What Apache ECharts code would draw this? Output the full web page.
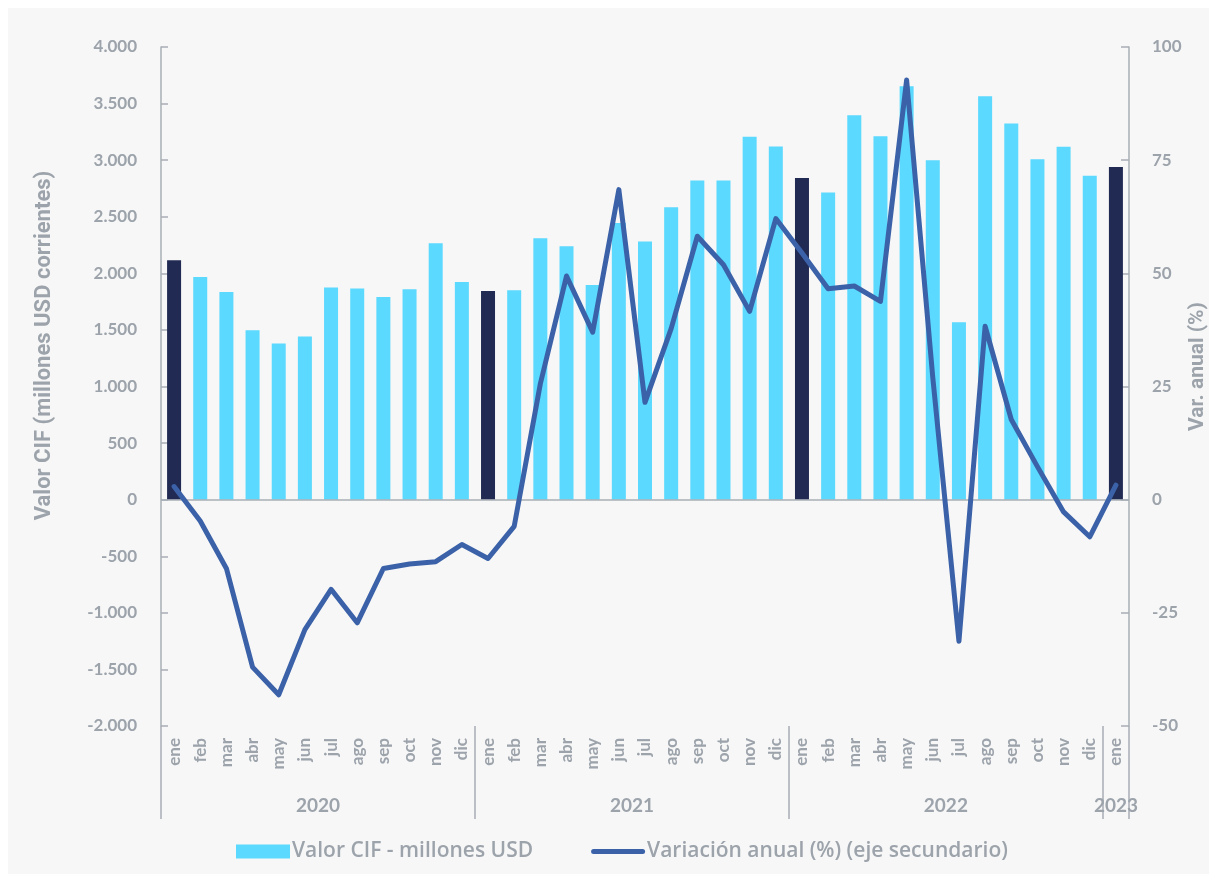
<!DOCTYPE html>
<html>
<head>
<meta charset="utf-8">
<script src="https://cdn.jsdelivr.net/npm/echarts@6/dist/echarts.min.js"></script>
<style>
  html, body { margin: 0; padding: 0; background: #ffffff; }
  #chart { position: absolute; left: 8px; top: 8px; width: 1201px; height: 866px; }
</style>
</head>
<body>
<div id="chart"></div>
<script>
// meses por año (ene 2020 - ene 2023)
const months = ['ene', 'feb', 'mar', 'abr', 'may', 'jun', 'jul', 'ago', 'sep', 'oct', 'nov', 'dic'];
const years = ['2020', '2021', '2022', '2023'];
const monthsPerYear = [12, 12, 12, 1];
const categories = [].concat(months, months, months, ['ene']);

// Valor CIF - millones USD
const valorCif = [
    2115, 1968, 1835, 1498, 1380, 1441, 1875, 1867, 1790, 1859, 2265, 1924,
    1843, 1851, 2310, 2240, 1896, 2444, 2281, 2585, 2821, 2821, 3207, 3121,
    2842, 2715, 3398, 3211, 3653, 3000, 1567, 3564, 3325, 3008, 3118, 2862,
    2939
];

// Variación anual (%)
const variacion = [
    2.9, -4.7, -15.2, -37.0, -43.1, -28.7, -19.8, -27.2, -15.2, -14.2, -13.7, -9.9,
    -13.0, -5.9, 25.6, 49.4, 37.0, 68.5, 21.5, 37.8, 58.2, 51.9, 41.6, 62.1,
    54.5, 46.6, 47.2, 43.8, 92.7, 27.0, -31.3, 38.3, 17.7, 7.3, -2.7, -8.2,
    3.2
];

const leftTicks = { min: -2000, max: 4000, interval: 500 };
const rightTicks = { min: -50, max: 100, interval: 25 };

const grey = '#9ca3ab';
const axisGrey = '#a9afb6';
const font = 'Lato, "Open Sans", sans-serif';
const nameFont = 'Roboto, "Open Sans", sans-serif';

// límites y centros de cada año sobre el eje de categorías
const yearBounds = [0];
const yearCenters = [];
monthsPerYear.forEach((n, i) => {
    yearCenters.push(yearBounds[i] + n / 2);
    yearBounds.push(yearBounds[i] + n);
});

const chart = echarts.init(document.getElementById('chart'));

const fmt = (v) => {
    const s = Math.abs(v).toString().replace(/\B(?=(\d{3})+(?!\d))/g, '.');
    return (v < 0 ? '-' : '') + s;
};

const options = {
    backgroundColor: '#f7f7f7',
    animation: false,
    textStyle: { fontFamily: font },
    grid: { left: 153, top: 39, width: 968, height: 679, containLabel: false, outerBoundsMode: 'none' },
    legend: {
        left: 228,
        top: 833,
        padding: 0,
        itemGap: 58,
        itemWidth: 54,
        itemHeight: 14,
        textStyle: { color: grey, fontSize: 21, fontWeight: 600, fontFamily: '"Open Sans", Lato, sans-serif', padding: [0, 0, 0, -3] },
        data: [
            { name: 'Valor CIF - millones USD', icon: 'rect', itemStyle: { color: '#5bd9fe' } },
            {
                name: 'Variación anual (%) (eje secundario)',
                icon: 'path://M2.5,0 L51.5,0 A2.5,2.5 0 0 1 51.5,5 L2.5,5 A2.5,2.5 0 0 1 2.5,0 Z',
                itemStyle: { color: '#3b62a8' }
            }
        ]
    },
    xAxis: [
        {
            type: 'category',
            data: categories,
            boundaryGap: true,
            axisLine: { show: false, onZero: false },
            axisTick: { show: false },
            axisLabel: {
                rotate: 90,
                interval: 0,
                margin: 12,
                color: grey,
                fontSize: 17,
                fontWeight: 'bold',
                fontFamily: font
            }
        },
        {
            type: 'value',
            min: 0,
            max: categories.length,
            position: 'bottom',
            axisLine: { show: false, onZero: false },
            splitLine: { show: false },
            axisTick: {
                show: true,
                customValues: yearBounds,
                length: 93,
                lineStyle: { color: axisGrey, width: 1.5 }
            },
            axisLabel: {
                customValues: yearCenters,
                margin: 70,
                color: grey,
                fontSize: 19,
                fontWeight: 'bold',
                fontFamily: font,
                formatter: (v) => years[yearCenters.indexOf(v)] || ''
            }
        }
    ],
    yAxis: [
        {
            type: 'value',
            min: leftTicks.min,
            max: leftTicks.max,
            interval: leftTicks.interval,
            name: 'Valor CIF (millones USD corrientes)',
            nameLocation: 'middle',
            nameRotate: 90,
            nameGap: 106,
            nameMoveOverlap: false,
            nameTextStyle: {
                color: grey,
                fontSize: 22,
                fontWeight: 'bold',
                fontFamily: nameFont,
                padding: [0, 0, 0, 82]
            },
            axisLine: { show: true, lineStyle: { color: axisGrey, width: 1.5 } },
            axisTick: { show: true, inside: true, length: 7, lineStyle: { color: axisGrey, width: 1.5 } },
            splitLine: { show: false },
            axisLabel: {
                margin: 24,
                color: grey,
                fontSize: 17,
                fontWeight: 'bold',
                fontFamily: font,
                formatter: fmt
            }
        },
        {
            type: 'value',
            min: rightTicks.min,
            max: rightTicks.max,
            interval: rightTicks.interval,
            name: 'Var. anual (%)',
            nameLocation: 'middle',
            nameRotate: 90,
            nameGap: 58,
            nameMoveOverlap: false,
            nameTextStyle: {
                color: grey,
                fontSize: 21,
                fontWeight: 'bold',
                fontFamily: nameFont,
                padding: [0, 0, 0, 40]
            },
            axisLine: { show: true, lineStyle: { color: axisGrey, width: 1.5 } },
            axisTick: { show: true, inside: true, length: 8, lineStyle: { color: axisGrey, width: 1.5 } },
            splitLine: { show: false },
            axisLabel: {
                margin: 23,
                color: grey,
                fontSize: 17,
                fontWeight: 'bold',
                fontFamily: font
            }
        }
    ],
    series: [
        {
            name: 'Valor CIF - millones USD',
            type: 'bar',
            xAxisIndex: 0,
            yAxisIndex: 0,
            data: valorCif,
            barWidth: 14,
            itemStyle: {
                // enero de cada año en azul oscuro
                color: (p) => (p.dataIndex % 12 === 0 ? '#212a52' : '#5bd9fe')
            },
            markLine: {
                silent: true,
                symbol: 'none',
                label: { show: false },
                lineStyle: { color: axisGrey, width: 1.5, type: 'solid' },
                data: [{ yAxis: 0 }]
            }
        },
        {
            name: 'Variación anual (%) (eje secundario)',
            type: 'line',
            xAxisIndex: 0,
            yAxisIndex: 1,
            data: variacion,
            showSymbol: false,
            symbol: 'none',
            itemStyle: { color: '#3b62a8' },
            lineStyle: { color: '#3b62a8', width: 5, cap: 'round', join: 'round' },
            z: 5
        }
    ]
};

chart.setOption(options);
</script>
</body>
</html>
